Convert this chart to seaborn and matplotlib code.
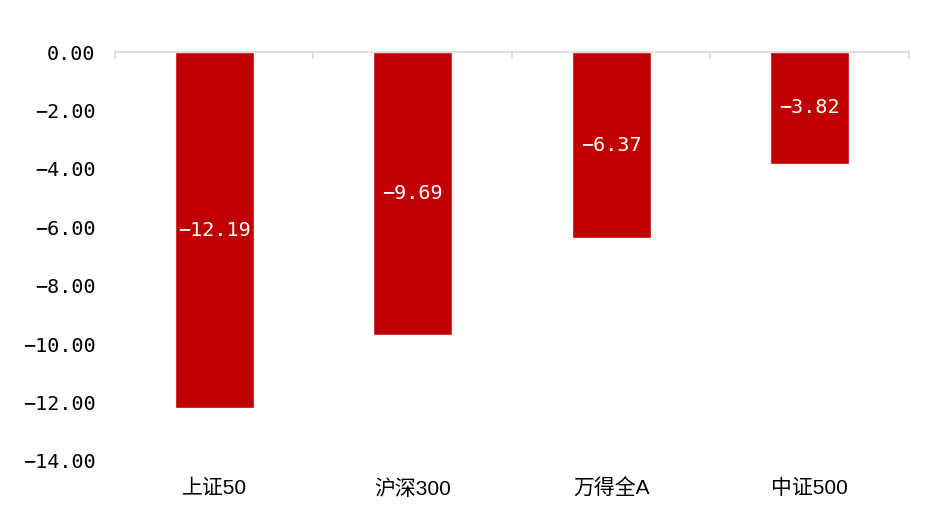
import numpy as np
import pandas as pd
import matplotlib
matplotlib.use("Agg")
import matplotlib.pyplot as plt
import seaborn as sns

# ========= DATA ==========
categories = ["上证50", "沪深300", "万得全A", "中证500"]
values = [-12.19, -9.69, -6.37, -3.82]
y_ticks = [0, -2, -4, -6, -8, -10, -12, -14]

BAR_COLOR = "#C00000"
GRID_GRAY = "#D9D9D9"
NUM_FONT = ["DejaVu Sans Mono", "Noto Sans CJK SC"]
CAT_FONT = ["Liberation Sans", "Noto Sans CJK SC"]

def fmt(v):
    return f"{v:.2f}".replace("-", "\u2212")

sns.set_style("white")
plt.rcParams["font.family"] = ["Noto Sans CJK SC", "DejaVu Sans"]

df = pd.DataFrame({"index": categories, "change": values})

fig = plt.figure(figsize=(9.34, 5.19), dpi=100)
ax = fig.add_axes([0.1231, 0.1118, 0.9732 - 0.1231, 0.8998 - 0.1118])

sns.barplot(data=df, x="index", y="change", color=BAR_COLOR, width=0.4,
            saturation=1, ax=ax)

ax.bar_label(ax.containers[0], labels=[fmt(v) for v in values],
             label_type="center", color="white", fontsize=14.5, family=NUM_FONT)

ax.set_ylim(-14, 0)
ax.set_xlim(-0.5, len(categories) - 0.5)
ax.set_yticks(y_ticks)
ax.set_yticklabels([fmt(t) for t in y_ticks], fontsize=14.5, family=NUM_FONT)
ax.set_xticks(range(len(categories)))
ax.set_xticklabels(categories, fontsize=15, family=CAT_FONT)
ax.tick_params(axis="y", length=0, pad=14, labelcolor="black")
ax.tick_params(axis="x", which="major", length=0, pad=13, labelcolor="black")

# axis line along zero (top) with category divider ticks
for s in ["left", "right", "bottom"]:
    ax.spines[s].set_visible(False)
ax.spines["top"].set_visible(True)
ax.spines["top"].set_color(GRID_GRAY)
ax.spines["top"].set_linewidth(1.2)
ax.set_xticks(np.arange(-0.5, len(categories), 1.0), minor=True)
ax.tick_params(axis="x", which="minor", top=True, bottom=False, direction="in",
               length=5, width=1.2, color=GRID_GRAY)

ax.set_xlabel("")
ax.set_ylabel("")

fig.savefig("out.png", dpi=100)
